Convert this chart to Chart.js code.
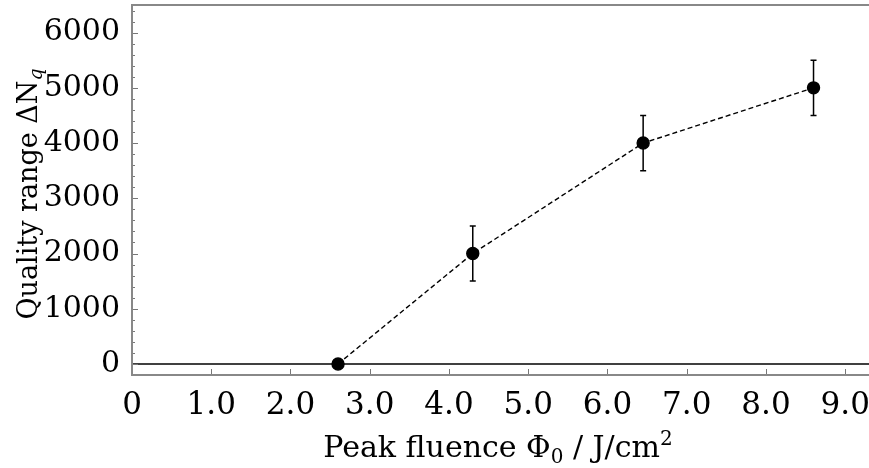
<!DOCTYPE html>
<html>
<head>
<meta charset="utf-8">
<script src="https://cdn.jsdelivr.net/npm/chart.js@4.4.1/dist/chart.umd.min.js"></script>
<style>
  html, body { margin: 0; padding: 0; background: #fff; }
  #wrap { width: 869px; height: 468px; }
</style>
</head>
<body>
<div id="wrap"><canvas id="chart"></canvas></div>
<script>
// data
const fluence = [2.6, 4.3, 6.45, 8.6];
const qualityRange = [0, 2000, 4000, 5000];
const qualityErr = [0, 500, 500, 500];
const xTicks = [0, 1, 2, 3, 4, 5, 6, 7, 8, 9];
const yTicks = [0, 1000, 2000, 3000, 4000, 5000, 6000];

const FONT = '"DejaVu Serif", "Liberation Serif", serif';

// draws rich text parts [text, font, dy] centred on cx
function drawParts(ctx, parts, cx, by) {
    let w = 0;
    parts.forEach(p => { ctx.font = p[1]; w += ctx.measureText(p[0]).width; });
    let x = cx - w / 2;
    parts.forEach(p => {
        ctx.font = p[1];
        ctx.fillText(p[0], x, by + p[2]);
        x += ctx.measureText(p[0]).width;
    });
}

// frame, inward ticks, zero line, error bars and axis titles
const decorations = {
    id: 'decorations',
    beforeDatasetsDraw(chart) {
        const { ctx, chartArea: a, scales: { x, y } } = chart;
        ctx.save();
        // zero line
        ctx.strokeStyle = '#000';
        ctx.lineWidth = 1.5;
        ctx.beginPath();
        ctx.moveTo(a.left, y.getPixelForValue(0));
        ctx.lineTo(a.right, y.getPixelForValue(0));
        ctx.stroke();

        // ticks
        ctx.strokeStyle = '#777';
        ctx.lineWidth = 1;
        ctx.beginPath();
        for (let v = 0; v <= 6400; v += 200) {
            const py = Math.round(y.getPixelForValue(v)) + 0.5;
            const len = v % 1000 === 0 ? 6 : 3;
            ctx.moveTo(a.left, py);
            ctx.lineTo(a.left + len, py);
        }
        xTicks.forEach(v => {
            if (v === 0) return;
            const px = Math.round(x.getPixelForValue(v)) + 0.5;
            ctx.moveTo(px, a.bottom);
            ctx.lineTo(px, a.bottom - 6);
        });
        ctx.stroke();

        // frame (right side falls outside the canvas)
        ctx.strokeStyle = '#888';
        ctx.lineWidth = 2;
        ctx.beginPath();
        ctx.moveTo(a.right + 2, a.top);
        ctx.lineTo(a.left, a.top);
        ctx.lineTo(a.left, a.bottom);
        ctx.lineTo(a.right + 2, a.bottom);
        ctx.stroke();

        // error bars
        ctx.strokeStyle = '#000';
        ctx.lineWidth = 1.5;
        ctx.beginPath();
        fluence.forEach((f, i) => {
            const e = qualityErr[i];
            if (!e) return;
            const px = x.getPixelForValue(f);
            const y1 = y.getPixelForValue(qualityRange[i] - e);
            const y2 = y.getPixelForValue(qualityRange[i] + e);
            ctx.moveTo(px, y1); ctx.lineTo(px, y2);
            ctx.moveTo(px - 3, y1); ctx.lineTo(px + 3, y1);
            ctx.moveTo(px - 3, y2); ctx.lineTo(px + 3, y2);
        });
        ctx.stroke();
        ctx.restore();
    },
    afterDraw(chart) {
        const { ctx } = chart;
        ctx.save();
        ctx.fillStyle = '#000';
        ctx.textBaseline = 'alphabetic';

        drawParts(ctx, [
            ['Peak fluence \u03A6', '30px ' + FONT, 0],
            ['0', '20px ' + FONT, 6],
            [' / J/cm', '30px ' + FONT, 0],
            ['2', '20px ' + FONT, -12],
        ], 498, 457);

        ctx.translate(37, 194);
        ctx.rotate(-Math.PI / 2);
        drawParts(ctx, [
            ['Quality range \u0394N', '27px ' + FONT, 0],
            ['q', 'italic 19px ' + FONT, 5],
        ], 0, 0);
        ctx.restore();
    }
};

new Chart(document.getElementById('chart'), {
    type: 'scatter',
    data: {
        datasets: [{
            data: fluence.map((f, i) => ({ x: f, y: qualityRange[i] })),
            showLine: true,
            borderColor: '#000',
            borderWidth: 1.4,
            borderDash: [5, 3],
            pointRadius: 6,
            pointHoverRadius: 6,
            pointBackgroundColor: '#000',
            pointBorderColor: '#000',
        }],
    },
    options: {
        responsive: true,
        maintainAspectRatio: false,
        animation: false,
        layout: { autoPadding: false, padding: { top: 5, right: 0, left: 0, bottom: 0 } },
        plugins: {
            legend: { display: false },
            tooltip: { enabled: false },
        },
        scales: {
            x: {
                type: 'linear',
                min: 0,
                max: 9.3,
                afterBuildTicks: s => { s.ticks = xTicks.map(v => ({ value: v })); },
                afterFit: s => { s.height = 93; s.paddingLeft = 0; s.paddingRight = 0; },
                grid: { display: false },
                border: { display: false },
                ticks: {
                    padding: 4,
                    color: '#000',
                    font: { family: FONT, size: 31 },
                    callback: v => (v === 0 ? '0' : v.toFixed(1)),
                },
            },
            y: {
                min: -200,
                max: 6500,
                afterBuildTicks: s => { s.ticks = yTicks.map(v => ({ value: v })); },
                afterFit: s => { s.width = 132; s.paddingTop = 0; s.paddingBottom = 0; },
                grid: { display: false },
                border: { display: false },
                ticks: {
                    padding: 4,
                    color: '#000',
                    font: { family: FONT, size: 30 },
                    callback: v => String(v),
                },
            },
        },
    },
    plugins: [decorations],
});
</script>
</body>
</html>
